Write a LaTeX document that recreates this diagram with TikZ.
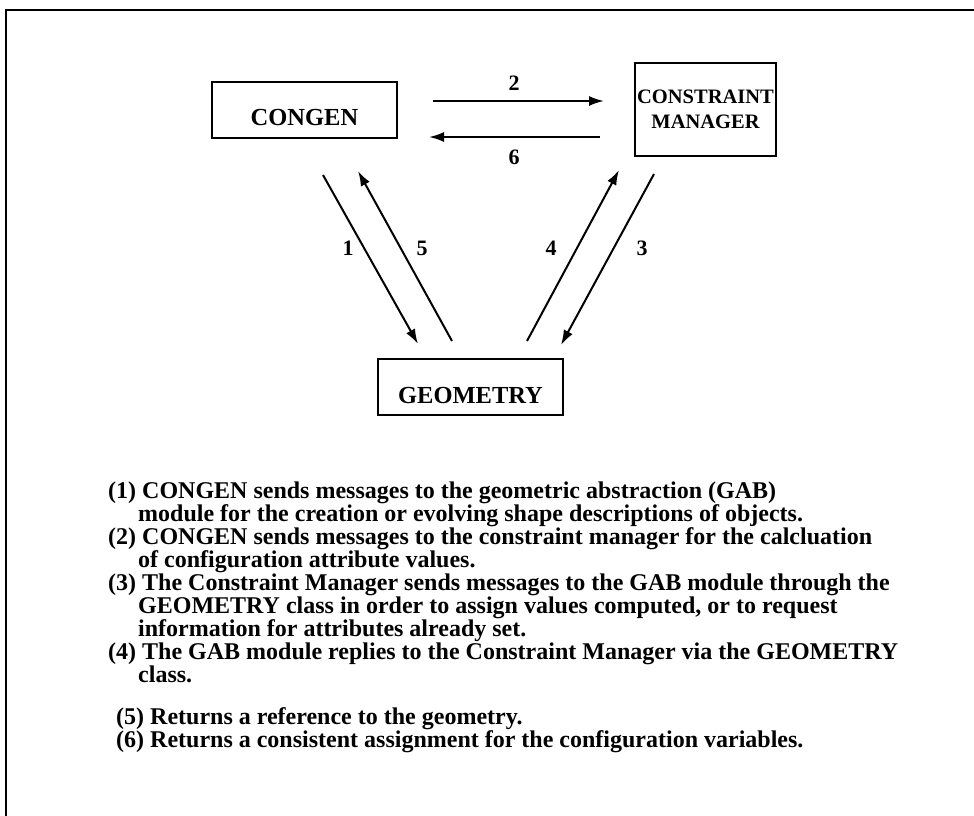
\documentclass[tikz,border=0pt]{standalone}
\usepackage{fontspec}
\setmainfont{Liberation Serif}
\usetikzlibrary{arrows.meta}
\begin{document}
\begin{tikzpicture}[x=1pt,y=-1pt,
  box/.style={draw,line width=1.8pt,inner sep=0pt,font=\fontsize{24.5}{25}\selectfont\bfseries,align=center},
  arr/.style={line width=2pt,-{Latex[length=15pt,width=10pt]}},
  num/.style={font=\fontsize{22}{22}\selectfont\bfseries,inner sep=0pt},
  txt/.style={anchor=base west,inner sep=0pt,font=\fontsize{24}{23}\selectfont\bfseries}]
\useasboundingbox (0,0) rectangle (974,816);
\draw[line width=2.6pt] (6,830) -- (6,10) -- (990,10);
% boxes
\node[box,minimum width=185pt,text height=43pt,text depth=13pt] (congen) at (304.5,110) {CONGEN};
\node[box,minimum width=141pt,minimum height=93pt,font=\fontsize{20.5}{25}\selectfont\bfseries] (cm) at (705.5,109.5) {CONSTRAINT\\MANAGER};
\node[box,minimum width=185pt,text height=44pt,text depth=12pt] (geo) at (470.5,387) {GEOMETRY};
% endpoints
\coordinate (a2s) at (433,101); \coordinate (a2e) at (604,101);
\coordinate (a6s) at (600,137); \coordinate (a6e) at (429,137);
\coordinate (a1s) at (323,175); \coordinate (a1e) at (418,344);
\coordinate (a5s) at (452,341); \coordinate (a5e) at (358,171);
\coordinate (a4s) at (527,341); \coordinate (a4e) at (619,170);
\coordinate (a3s) at (654,174); \coordinate (a3e) at (561,345);
\draw[arr] (a2s) -- (a2e);
\draw[arr] (a6s) -- (a6e);
\draw[arr] (a1s) -- (a1e);
\draw[arr] (a5s) -- (a5e);
\draw[arr] (a4s) -- (a4e);
\draw[arr] (a3s) -- (a3e);
\node[num] (l2) at (514,83) {2};
\node[num] (l6) at (514,157) {6};
\node[num] (l1) at (348,248) {1};
\node[num] (l5) at (422,248) {5};
\node[num] (l4) at (551,248) {4};
\node[num] (l3) at (642,248) {3};
% text
\node[txt] (t1) at (108,498) {(1) CONGEN sends messages to the geometric abstraction (GAB)};
\node[txt] (t1b) at (138,521) {module for the creation or evolving shape descriptions of objects.};
\node[txt] (t2) at (108,544) {(2) CONGEN sends messages to the constraint manager for the calcluation};
\node[txt] (t2b) at (138,567) {of configuration attribute values.};
\node[txt] (t3) at (108,590) {(3) The Constraint Manager sends messages to the GAB module through the};
\node[txt] (t3b) at (138,613) {GEOMETRY class in order to assign values computed, or to request};
\node[txt] (t3c) at (138,636) {information for attributes already set.};
\node[txt] (t4) at (108,659) {(4) The GAB module replies to the Constraint Manager via the GEOMETRY};
\node[txt] (t4b) at (138,682) {class.};
\node[txt] (t5) at (116,724) {(5) Returns a reference to the geometry.};
\node[txt] (t6) at (116,747) {(6) Returns a consistent assignment for the configuration variables.};
\end{tikzpicture}
\end{document}
